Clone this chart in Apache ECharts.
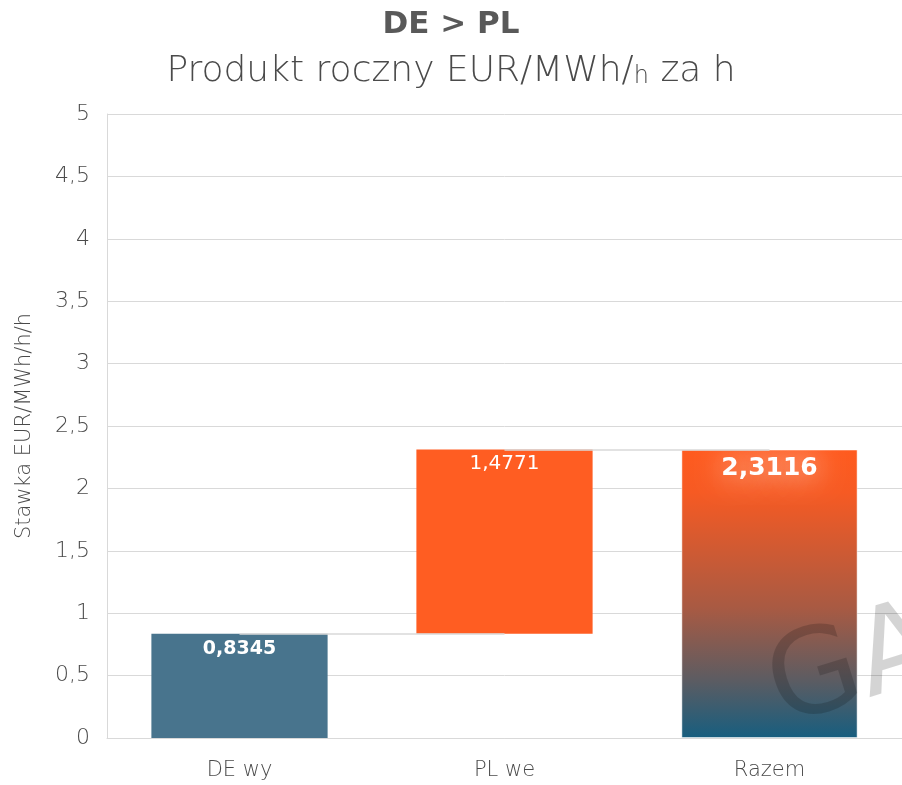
<!DOCTYPE html>
<html>
<head>
<meta charset="utf-8">
<script src="https://cdn.jsdelivr.net/npm/echarts@6/dist/echarts.min.js"></script>
<style>
  html, body { margin: 0; padding: 0; background: #fff; }
  #chart { width: 902px; height: 785px; }
</style>
</head>
<body>
<div id="chart"></div>
<script>
// waterfall data
var categories = ['DE wy', 'PL we', 'Razem'];
var baseValues = [0, 0.8345, 0];
var stepValues = [0.8345, 1.4771, 2.3116];
var yTicks = [0, 0.5, 1, 1.5, 2, 2.5, 3, 3.5, 4, 4.5, 5];

var font = '"DejaVu Sans", sans-serif';
var grey = '#595959';
var textGrey = '#4a4a4a';
var lineGrey = '#d9d9d9';

function pl(v) { return String(v).replace('.', ','); }

var myChart = echarts.init(document.getElementById('chart'));

var option = {
  backgroundColor: '#fff',
  animation: false,
  title: {
    text: 'DE > PL',
    subtext: '{a|Produkt roczny EUR/MWh/}{b|h}{a| za h}',
    left: 'center',
    top: 4,
    itemGap: 14,
    textStyle: { color: grey, fontFamily: font, fontWeight: 'bold', fontSize: 31 },
    subtextStyle: {
      rich: {
        a: { color: textGrey, fontFamily: font, fontSize: 36, fontWeight: 200 },
        b: { color: textGrey, fontFamily: font, fontSize: 24, fontWeight: 200, padding: [9, 0, 0, 0] }
      }
    }
  },
  grid: { left: 107, right: 0, top: 114, bottom: 47 },
  xAxis: {
    type: 'category',
    data: categories,
    axisLine: { lineStyle: { color: lineGrey } },
    axisTick: { show: false },
    axisLabel: { color: textGrey, fontFamily: font, fontSize: 21, fontWeight: 200, margin: 22 }
  },
  yAxis: {
    type: 'value',
    min: 0,
    max: 5,
    interval: 0.5,
    name: 'Stawka EUR/MWh/h/h',
    nameLocation: 'middle',
    nameGap: 72,
    nameTextStyle: { color: textGrey, fontFamily: font, fontSize: 21, fontWeight: 200 },
    axisLine: { show: true, lineStyle: { color: lineGrey } },
    axisLabel: {
      color: textGrey, fontFamily: font, fontSize: 22, fontWeight: 200, margin: 17,
      formatter: function (v) { return yTicks.indexOf(v) >= 0 ? pl(v) : ''; }
    },
    splitLine: { lineStyle: { color: lineGrey, width: 1 } }
  },
  graphic: [{
    type: 'text',
    left: 755,
    top: 588,
    rotation: 0.3,
    z: 100,
    style: {
      text: 'GA',
      fill: 'rgba(0,0,0,0.17)',
      font: 'normal 118px ' + font
    }
  }],
  series: [
    {
      type: 'line',
      data: [],
      silent: true,
      z: 1,
      markLine: {
        symbol: 'none',
        silent: true,
        label: { show: false },
        lineStyle: { color: lineGrey, type: 'solid', width: 1.5 },
        data: [
          [{ coord: [categories[0], stepValues[0]] }, { coord: [categories[1], baseValues[1]] }],
          [{ coord: [categories[1], baseValues[1] + stepValues[1]] }, { coord: [categories[2], stepValues[2]] }]
        ]
      }
    },
    {
      name: 'base',
      type: 'bar',
      stack: 'w',
      z: 2,
      barCategoryGap: '33.5%',
      itemStyle: { color: 'transparent' },
      data: baseValues
    },
    {
      name: 'value',
      type: 'bar',
      stack: 'w',
      z: 2,
      label: {
        show: true,
        position: 'insideTop',
        distance: 6,
        color: '#fff',
        fontFamily: font,
        fontSize: 19,
        fontWeight: 'bold',
        formatter: function (p) { return pl(p.value); }
      },
      data: [
        { value: stepValues[0], itemStyle: { color: '#48748d' } },
        {
          value: stepValues[1],
          itemStyle: { color: '#ff5d22' },
          label: { fontWeight: 'normal', fontSize: 20, distance: 4 }
        },
        {
          value: stepValues[2],
          itemStyle: {
            borderColor: 'rgba(255,255,255,0.5)',
            borderWidth: 1,
            color: new echarts.graphic.LinearGradient(0, 0, 0, 1, [
              { offset: 0, color: '#ff5b1f' },
              { offset: 0.15, color: '#f65a23' },
              { offset: 0.55, color: '#a85a43' },
              { offset: 0.8, color: '#5c5c62' },
              { offset: 1, color: '#175e7f' }
            ])
          },
          label: {
            fontSize: 25,
            distance: 6,
            textShadowColor: 'rgba(255,255,255,0.95)',
            textShadowBlur: 28
          }
        }
      ]
    }
  ]
};

myChart.setOption(option);
</script>
</body>
</html>
